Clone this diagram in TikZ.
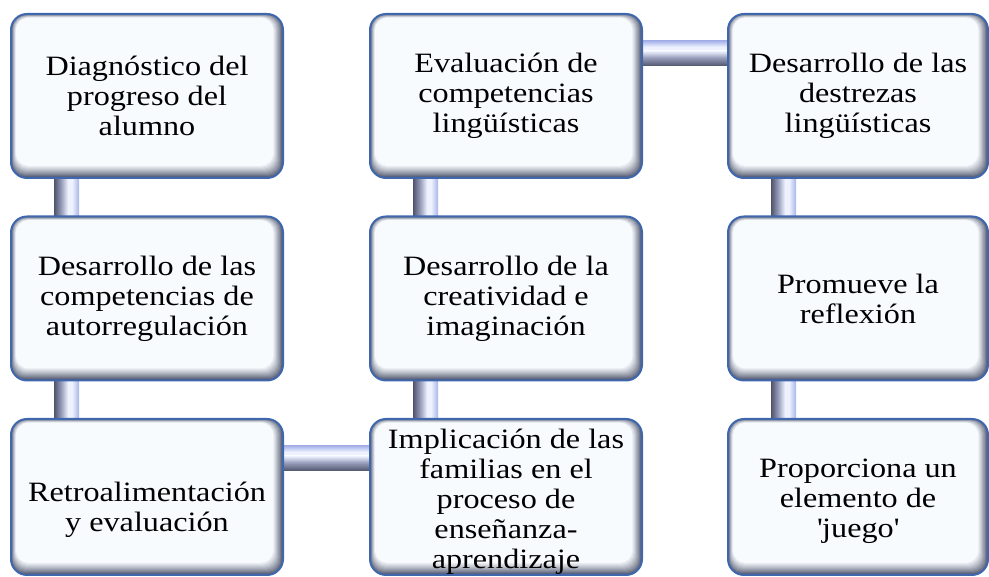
\documentclass[tikz,border=0pt]{standalone}
\usepackage{fontspec}
\setmainfont[FakeStretch=1.15]{Liberation Serif}
\usetikzlibrary{calc,backgrounds}
\definecolor{bord}{HTML}{3F67AD}
\definecolor{edgec}{HTML}{4A5068}
\definecolor{fillc}{HTML}{F7FBFE}
\definecolor{pd}{HTML}{4F546B}
\definecolor{pm}{HTML}{959BB8}
\definecolor{pw}{HTML}{EEF2FF}
\definecolor{pl}{HTML}{A9B5EA}
\tikzset{
  box/.style={draw=bord, line width=2pt, rounded corners=16pt,
    minimum width=272pt, minimum height=164pt, inner sep=0pt, align=center,
    font=\fontsize{28}{30}\selectfont, text=black,
    path picture={
      \fill[edgec] (path picture bounding box.south west) rectangle (path picture bounding box.north east);
      \foreach \i in {0,...,12}{
        \pgfmathtruncatemacro\pc{100*(\i/12)^0.85}
        \colorlet{lay}{fillc!\pc!edgec}
        \fill[lay, rounded corners=13pt]
          ($(path picture bounding box.south west)+(0.4*\i,1.0*\i)$) rectangle
          ($(path picture bounding box.north east)+(-0.8*\i,-0.3*\i)$);
      }
    }},
  narrowbox/.style={box, minimum width=260pt},
  lowbox/.style={minimum height=156pt}
}
\newcommand\vpipe[3]{%
  \shade[left color=pd,right color=pm] ($(#1.south west)+(#3,5)$) rectangle ($(#2.north west)+(#3+7,-5)$);
  \shade[left color=pm,right color=pw] ($(#1.south west)+(#3+7,5)$) rectangle ($(#2.north west)+(#3+14,-5)$);
  \fill[pw] ($(#1.south west)+(#3+14,5)$) rectangle ($(#2.north west)+(#3+18,-5)$);
  \shade[left color=pw,right color=pl] ($(#1.south west)+(#3+18,5)$) rectangle ($(#2.north west)+(#3+25,-5)$);
}
\newcommand\hpipe[3]{%
  \shade[top color=pl,bottom color=pw] ($(#1.north east)+(-5,-#3)$) rectangle ($(#2.north west)+(5,-#3-6)$);
  \fill[pw] ($(#1.north east)+(-5,-#3-6)$) rectangle ($(#2.north west)+(5,-#3-10)$);
  \shade[top color=pw,bottom color=pm] ($(#1.north east)+(-5,-#3-10)$) rectangle ($(#2.north west)+(5,-#3-17)$);
  \shade[top color=pm,bottom color=pd] ($(#1.north east)+(-5,-#3-17)$) rectangle ($(#2.north west)+(5,-#3-25)$);
}
\begin{document}
\begin{tikzpicture}[x=1pt,y=1pt]
\useasboundingbox (0,0) rectangle (989,577);
\node[box] (b11) at (147,481) {Diagnóstico del\\progreso del\\alumno};
\node[box] (b21) at (147,278.5) {Desarrollo de las\\competencias de\\autorregulación};
\node[box,lowbox,text height=76pt] (b31) at (147,80) {Retroalimentación\\y evaluación};
\node[box] (b12) at (506,481) {Evaluación de\\competencias\\lingüísticas};
\node[box] (b22) at (506,278.5) {Desarrollo de la\\creatividad e\\imaginación};
\node[box,lowbox,text height=149pt] (b32) at (506,80) {Implicación de las\\familias en el\\proceso de\\enseñanza-\\aprendizaje};
\node[narrowbox] (b13) at (858,481) {Desarrollo de las\\destrezas\\lingüísticas};
\node[narrowbox] (b23) at (858,278.5) {Promueve la\\reflexión};
\node[narrowbox,lowbox,text height=87pt] (b33) at (858,80) {Proporciona un\\elemento de\\\textquotesingle juego\textquotesingle};
\begin{scope}[on background layer]
  \vpipe{b11}{b21}{44}
  \vpipe{b21}{b31}{44}
  \vpipe{b12}{b22}{44}
  \vpipe{b22}{b32}{44}
  \vpipe{b13}{b23}{44}
  \vpipe{b23}{b33}{44}
  \hpipe{b12}{b13}{28}
  \hpipe{b31}{b32}{28}
\end{scope}
\end{tikzpicture}
\end{document}
